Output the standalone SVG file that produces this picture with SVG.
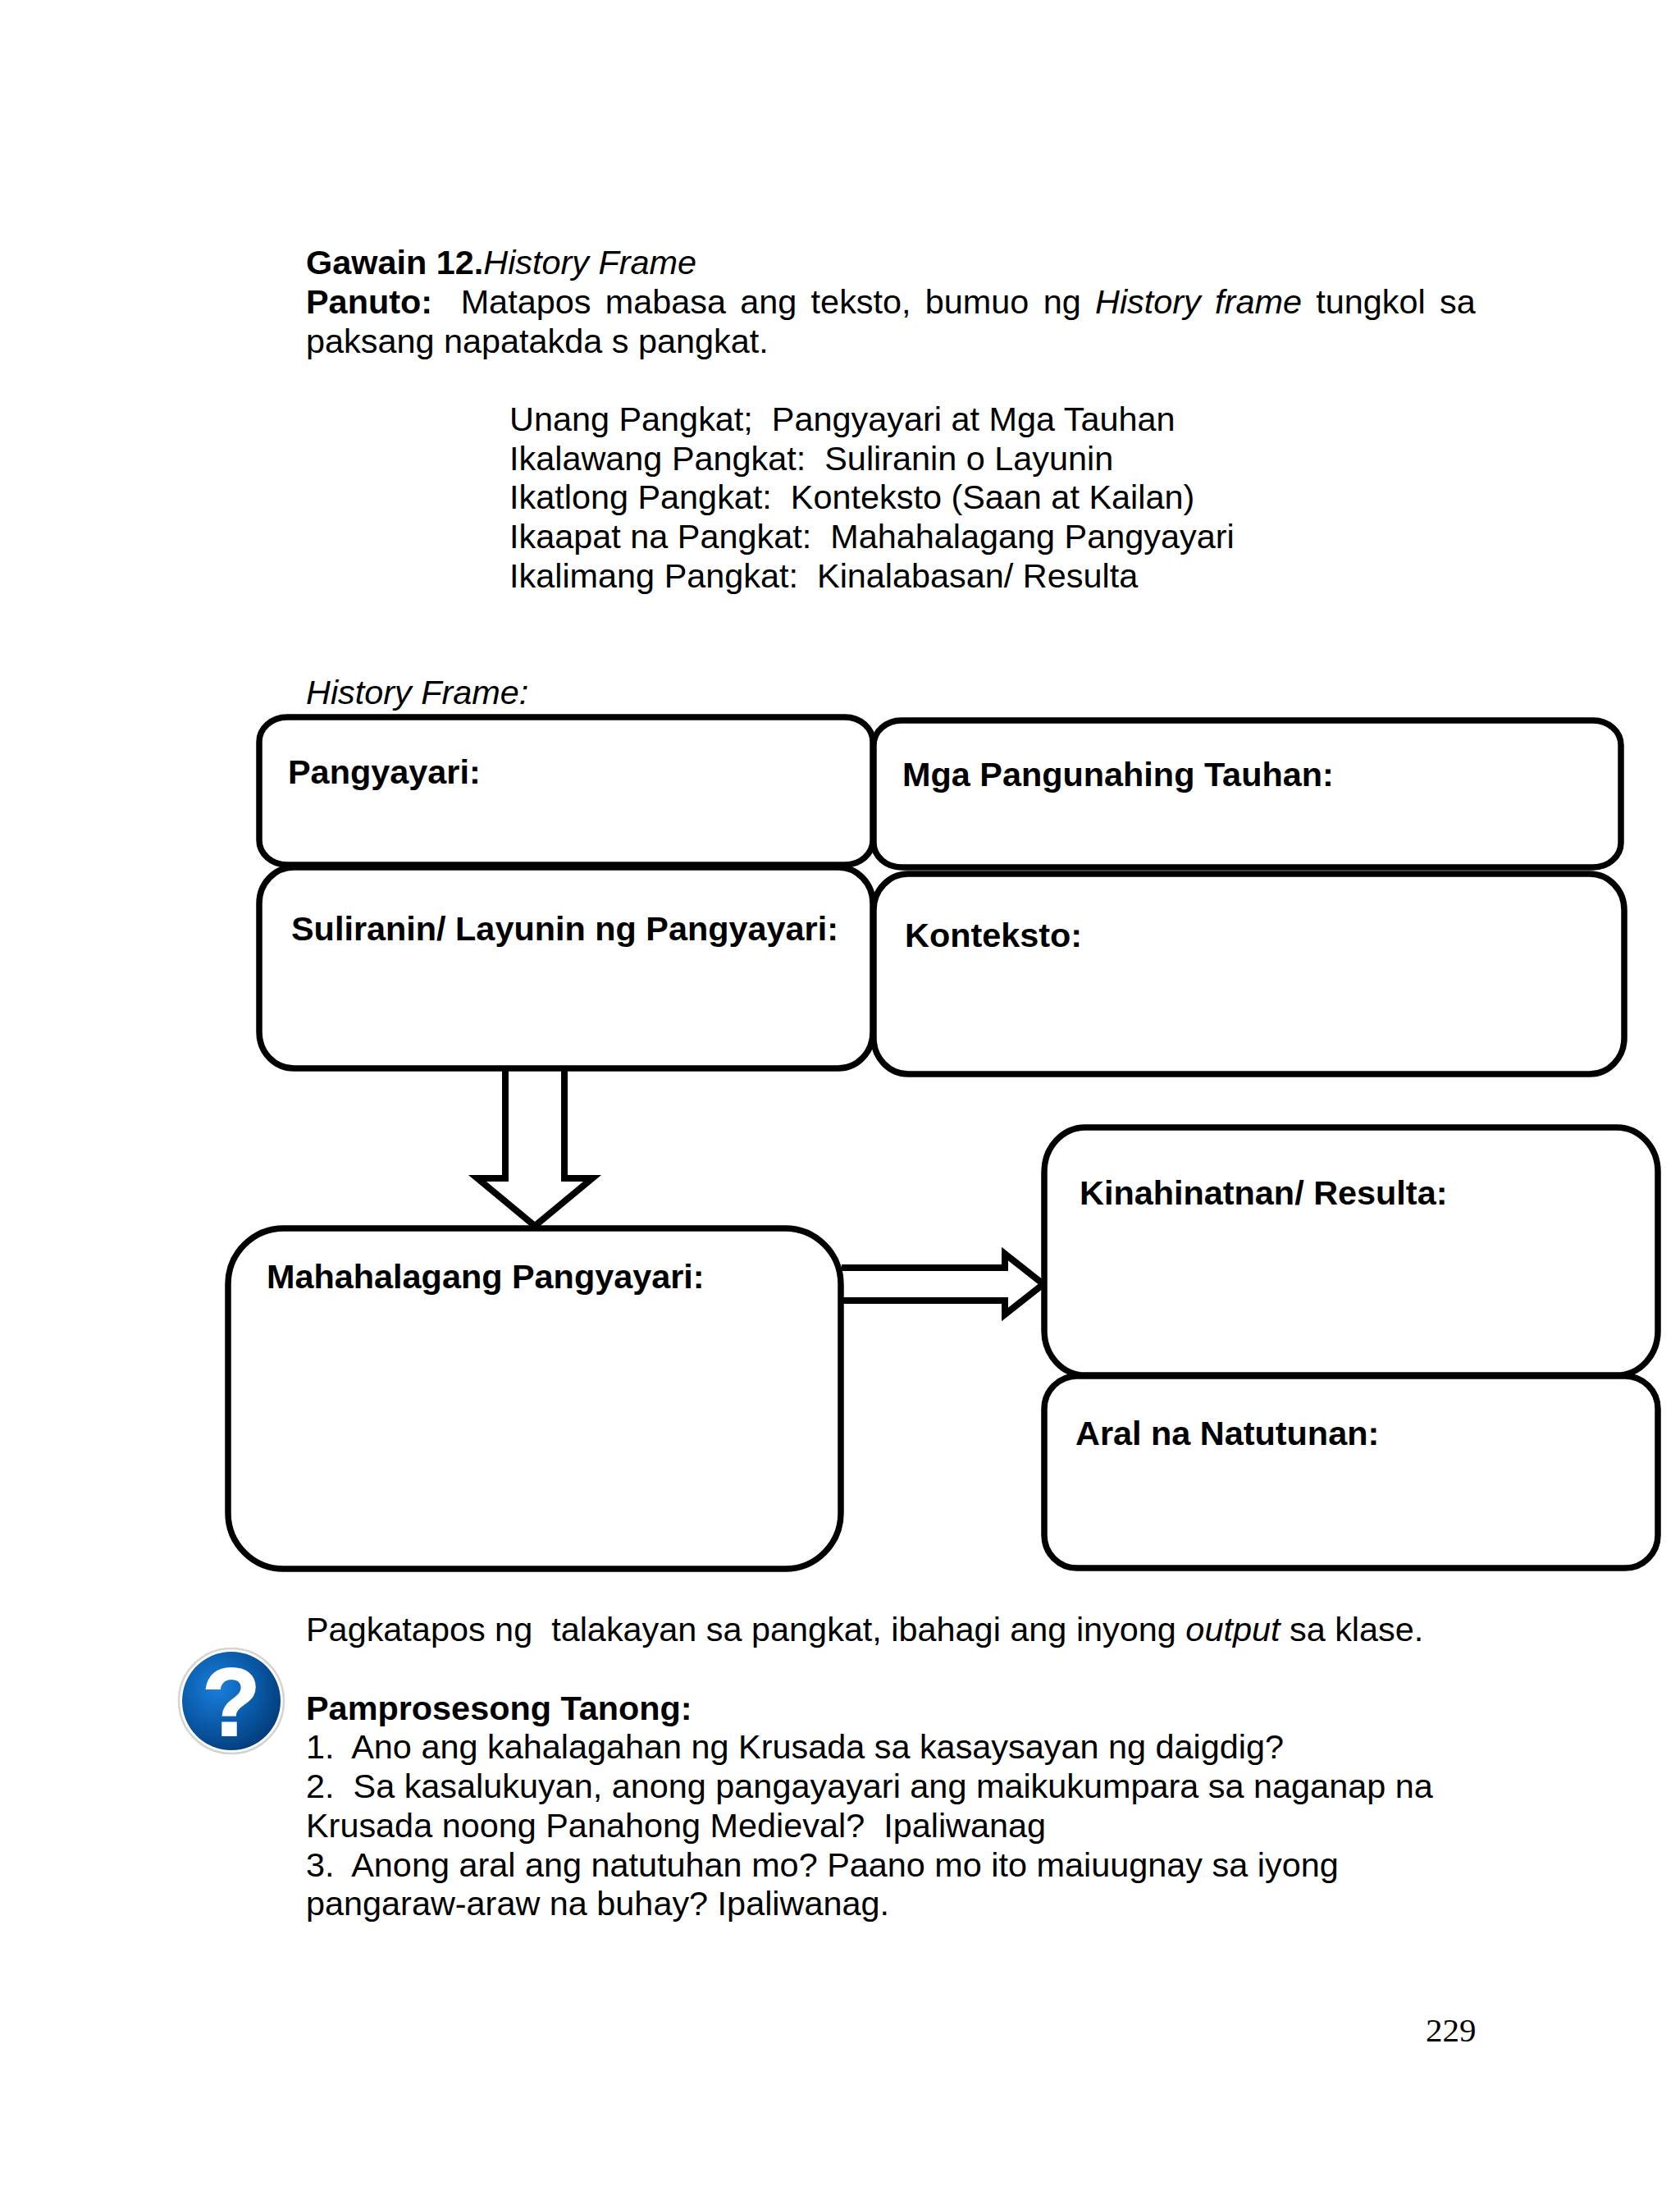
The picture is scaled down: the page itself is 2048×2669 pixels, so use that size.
<svg xmlns="http://www.w3.org/2000/svg" width="2048" height="2669" viewBox="0 0 2048 2669">
<style>
text{font-family:"Liberation Sans",Arial,sans-serif;font-size:41.4px;fill:#000;white-space:pre}
.b{font-weight:bold}
.i{font-style:italic}
.box{fill:#fff;stroke:#000;stroke-width:7.5}
.arr{fill:#fff;stroke:#000;stroke-width:8;stroke-linejoin:miter;stroke-miterlimit:10}
</style>
<defs>
<radialGradient id="blue" cx="0.36" cy="0.36" r="0.72">
<stop offset="0" stop-color="#1a7fdc"/><stop offset="0.55" stop-color="#0a5aa8"/><stop offset="1" stop-color="#033a78"/>
</radialGradient>
</defs>
<rect width="2048" height="2669" fill="#fff"/>
<g id="intro">
<text x="373" y="334"><tspan class="b">Gawain 12.</tspan><tspan class="i">History Frame</tspan></text>
<text x="373" y="382" word-spacing="5.8"><tspan class="b">Panuto:</tspan>  Matapos mabasa ang teksto, bumuo ng <tspan class="i">History frame</tspan> tungkol sa</text>
<text x="373" y="430">paksang napatakda s pangkat.</text>
<text x="621" y="525">Unang Pangkat;  Pangyayari at Mga Tauhan</text>
<text x="621" y="573">Ikalawang Pangkat:  Suliranin o Layunin</text>
<text x="621" y="620">Ikatlong Pangkat:  Konteksto (Saan at Kailan)</text>
<text x="621" y="668">Ikaapat na Pangkat:  Mahahalagang Pangyayari</text>
<text x="621" y="716">Ikalimang Pangkat:  Kinalabasan/ Resulta</text>
<text x="373" y="858" class="i">History Frame:</text>
</g>
<g id="connectors">
<path class="arr" d="M616 1302V1436H582L652 1494L722 1436H688V1302"/>
<path class="arr" d="M1026 1545H1225V1528L1272 1565L1225 1602V1585H1026"/>
</g>
<g id="node-pangyayari"><rect class="box" x="316" y="874" width="748" height="180" rx="34" ry="30"/><text class="b" x="351" y="955">Pangyayari:</text></g>
<g id="node-tauhan"><rect class="box" x="1065" y="878" width="911" height="179" rx="34" ry="30"/><text class="b" x="1100" y="958">Mga Pangunahing Tauhan:</text></g>
<g id="node-suliranin"><rect class="box" x="316" y="1057" width="748" height="245" rx="42" ry="44"/><text class="b" x="355" y="1146">Suliranin/ Layunin ng Pangyayari:</text></g>
<g id="node-konteksto"><rect class="box" x="1065" y="1065" width="915" height="244" rx="42" ry="44"/><text class="b" x="1103" y="1154">Konteksto:</text></g>
<g id="node-mahalaga"><rect class="box" x="278" y="1497" width="747" height="415" rx="68" ry="68"/><text class="b" x="325" y="1570">Mahahalagang Pangyayari:</text></g>
<g id="node-kinahinatnan"><rect class="box" x="1273" y="1374" width="748" height="302" rx="50" ry="54"/><text class="b" x="1316" y="1468">Kinahinatnan/ Resulta:</text></g>
<g id="node-aral"><rect class="box" x="1273" y="1677" width="748" height="234" rx="40" ry="40"/><text class="b" x="1311" y="1761">Aral na Natutunan:</text></g>
<g id="icon">
<circle cx="282" cy="2073" r="64" fill="#fff" stroke="#d4d4d4" stroke-width="2.5"/>
<circle cx="282" cy="2073" r="60" fill="url(#blue)"/>
<text x="282" y="2115" text-anchor="middle" class="b" style="font-size:116px;fill:#fff;stroke:#fff;stroke-width:2">?</text>
</g>
<g id="outro">
<text x="373" y="2000">Pagkatapos ng  talakayan sa pangkat, ibahagi ang inyong <tspan class="i">output</tspan> sa klase.</text>
<text x="373" y="2096" class="b">Pamprosesong Tanong:</text>
<text x="373" y="2143">1.  Ano ang kahalagahan ng Krusada sa kasaysayan ng daigdig?</text>
<text x="373" y="2191">2.  Sa kasalukuyan, anong pangayayari ang maikukumpara sa naganap na</text>
<text x="373" y="2239">Krusada noong Panahong Medieval?  Ipaliwanag</text>
<text x="373" y="2287">3.  Anong aral ang natutuhan mo? Paano mo ito maiuugnay sa iyong</text>
<text x="373" y="2334">pangaraw-araw na buhay? Ipaliwanag.</text>
<text x="1738" y="2488" style="font-family:'Liberation Serif',serif;font-size:41px">229</text>
</g>
</svg>
